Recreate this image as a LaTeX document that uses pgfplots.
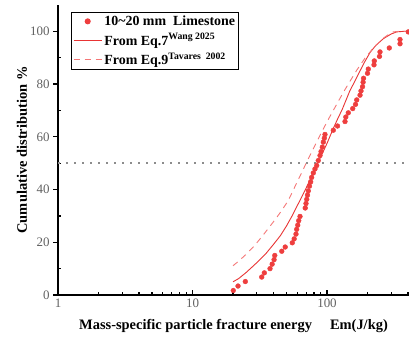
\documentclass[border=0pt]{standalone}
\usepackage{fontspec}
\setmainfont{Liberation Serif}
\usepackage{pgfplots}
\pgfplotsset{compat=1.18}
\definecolor{ptred}{RGB}{238,62,62}
\definecolor{linered}{RGB}{232,52,52}
\definecolor{dashred}{RGB}{244,118,118}
\begin{document}
\begin{tikzpicture}
\begin{axis}[
  at={(0,0)}, anchor=south west,
  scale only axis, width=351bp, height=290bp,
  xmode=log, xmin=1, xmax=407, ymin=0, ymax=110,
  axis x line=bottom, axis y line=left,
  axis line style={line width=1.5bp,-},
  xtick={1,10,100}, xticklabels={1,10,100},
  minor xtick={2,3,4,5,6,7,8,9,20,30,40,50,60,70,80,90,200,300,400},
  ytick={0,20,40,60,80,100}, minor ytick={10,30,50,70,90},
  xtick align=inside, ytick align=outside,
  major tick length=5bp, minor tick length=3bp,
  every tick/.style={black, line width=1.2bp},
  minor y tick style={xshift=3bp},
  ticklabel style={font=\fontsize{13}{14}\selectfont, text=black!62},
  /pgf/number format/assume math mode=true,
  xlabel={Mass-specific particle fracture energy\quad\ Em(J/kg)},
  ylabel={Cumulative distribution \%},
  label style={font=\bfseries\fontsize{14.5}{16}\selectfont},
  xlabel style={at={(axis description cs:0.5,-0.107)}, anchor=center},
  ylabel style={at={(axis description cs:-0.1026,0.5)}, anchor=center, rotate=0},
  legend style={at={(rel axis cs:0.037,0.977)}, anchor=north west,
    draw=black, line width=1.2bp, font=\bfseries\fontsize{14}{16}\selectfont,
    inner sep=1.5bp, row sep=2.5bp, cells={anchor=west}},
  legend image code/.code={\draw[mark repeat=2,mark phase=2,#1] plot coordinates {(0cm,0cm) (0.5cm,0cm) (1cm,0cm)};},
]
\addplot[only marks, mark=*, mark size=2.4bp, ptred, mark options={draw=none, fill=ptred}] table {
x y
20.1 1.7
21.8 3.4
24.7 5.1
32.7 6.8
34.2 8.4
37.7 10.0
39.1 11.7
40.4 13.4
40.9 15.0
46.1 16.6
48.9 18.2
55.2 19.8
57.0 21.3
58.8 23.1
59.5 24.9
60.6 26.5
61.6 28.2
63.0 29.8
68.9 33.0
69.8 34.7
70.7 36.3
71.6 37.9
72.6 39.5
74.1 41.3
75.6 42.9
76.9 44.6
79.1 46.3
81.4 47.8
83.8 49.1
86.1 51.0
88.7 52.9
90.3 54.4
92.3 56.1
93.9 58.0
95.5 59.5
96.6 60.9
111.4 62.5
119.7 64.1
136.1 65.8
138.0 67.5
144.0 69.1
155.3 70.7
162.9 72.3
166.3 74.0
176.0 75.8
179.0 77.4
183.7 79.0
185.5 80.7
187.0 82.2
200.0 84.1
202.8 85.7
223.6 87.3
224.7 88.8
245.6 90.5
247.7 92.2
290.5 93.7
349.0 95.3
349.0 96.9
402.0 99.8
};
\addlegendentry{10\textasciitilde 20 mm\ \ Limestone}
\addplot[linered, line width=0.9bp, no marks] table {
x y
20 5.0
22 6.2
25 8.5
28 10.8
31 12.9
35 15.6
40 19.2
45 22.5
50 26.2
55 30.0
60 33.8
65 37.3
70 40.6
75 43.8
80 46.9
90 52.5
100 57.5
111 63.0
120 66.8
130 70.5
148 77.5
160 80.8
176 85.0
190 88.3
209 92.0
230 94.6
262 97.2
300 99.0
330 99.8
370 100
407 100
};
\addlegendentry{From Eq.7\textsuperscript{Wang 2025}}
\addplot[dashred, line width=0.9bp, no marks, dash pattern=on 6bp off 5bp] table {
x y
20 11.1
22 12.8
25 15.4
29 18.8
33.6 22.8
41 28.5
46 32.0
51.6 35.9
59.5 42.5
65 46.5
70.7 50.5
80 56.0
90 61.2
102 66.5
115 71.3
132 76.8
150 81.5
166 85.2
192 89.9
221 93.7
262 97.4
290 99.0
311 99.8
340 100
407 100
};
\addlegendentry{From Eq.9\textsuperscript{Tavares\ \ 2002}}
\addplot[black!45, line width=1.5bp, dash pattern=on 2bp off 6bp, forget plot] coordinates {(1,50) (407,50)};
\end{axis}
\pgfresetboundingbox
\path[use as bounding box] (-58bp,-47bp) rectangle (351bp,295bp);
\end{tikzpicture}
\end{document}
